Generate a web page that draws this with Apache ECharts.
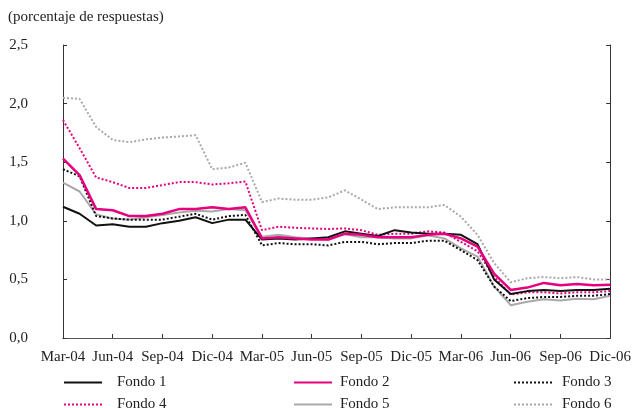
<!DOCTYPE html>
<html>
<head>
<meta charset="utf-8">
<script src="https://cdn.jsdelivr.net/npm/echarts@6/dist/echarts.min.js"></script>
<style>
  html, body { margin: 0; padding: 0; background: #fff; }
  #chart { width: 634px; height: 408px; }
</style>
</head>
<body>
<div id="chart"></div>
<script>
// meses (Mar-04 .. Dic-06)
const months = [
    'Mar-04', 'Abr-04', 'May-04', 'Jun-04', 'Jul-04', 'Ago-04', 'Sep-04', 'Oct-04', 'Nov-04', 'Dic-04',
    'Ene-05', 'Feb-05', 'Mar-05', 'Abr-05', 'May-05', 'Jun-05', 'Jul-05', 'Ago-05', 'Sep-05', 'Oct-05', 'Nov-05', 'Dic-05',
    'Ene-06', 'Feb-06', 'Mar-06', 'Abr-06', 'May-06', 'Jun-06', 'Jul-06', 'Ago-06', 'Sep-06', 'Oct-06', 'Nov-06', 'Dic-06'
];

const fondo1 = [1.12, 1.06, 0.96, 0.97, 0.95, 0.95, 0.98, 1.00, 1.03, 0.98, 1.01, 1.01, 0.84, 0.85, 0.84, 0.85, 0.86,
    0.91, 0.89, 0.87, 0.92, 0.90, 0.89, 0.89, 0.88, 0.80, 0.50, 0.375, 0.40, 0.41, 0.40, 0.41, 0.41, 0.42];
const fondo2 = [1.53, 1.39, 1.10, 1.09, 1.04, 1.04, 1.06, 1.10, 1.10, 1.115, 1.10, 1.115, 0.85, 0.86, 0.85, 0.84, 0.84,
    0.89, 0.88, 0.86, 0.86, 0.86, 0.88, 0.89, 0.85, 0.78, 0.55, 0.41, 0.43, 0.47, 0.45, 0.46, 0.45, 0.455];
const fondo3 = [1.44, 1.38, 1.04, 1.02, 1.01, 1.01, 1.01, 1.035, 1.06, 1.01, 1.04, 1.05, 0.79, 0.81, 0.80, 0.80, 0.79,
    0.82, 0.82, 0.80, 0.81, 0.81, 0.83, 0.83, 0.75, 0.665, 0.44, 0.315, 0.34, 0.35, 0.35, 0.36, 0.36, 0.375];
const fondo4 = [1.86, 1.62, 1.37, 1.33, 1.28, 1.28, 1.305, 1.33, 1.33, 1.31, 1.32, 1.335, 0.92, 0.95, 0.94, 0.935, 0.93,
    0.935, 0.92, 0.88, 0.89, 0.89, 0.91, 0.90, 0.82, 0.74, 0.52, 0.37, 0.39, 0.39, 0.38, 0.39, 0.39, 0.40];
const fondo5 = [1.325, 1.25, 1.055, 1.02, 1.01, 1.03, 1.05, 1.07, 1.085, 1.08, 1.10, 1.09, 0.865, 0.88, 0.86, 0.85, 0.84,
    0.885, 0.86, 0.86, 0.85, 0.85, 0.875, 0.85, 0.765, 0.695, 0.44, 0.28, 0.31, 0.33, 0.32, 0.335, 0.33, 0.36];
const fondo6 = [2.05, 2.04, 1.80, 1.69, 1.67, 1.695, 1.71, 1.72, 1.73, 1.44, 1.455, 1.495, 1.16, 1.19, 1.18, 1.18, 1.20,
    1.26, 1.18, 1.10, 1.115, 1.115, 1.115, 1.135, 1.035, 0.88, 0.64, 0.475, 0.51, 0.52, 0.51, 0.52, 0.50, 0.50];

const FONT = 'Liberation Serif';
const MAGENTA = '#e6007e';
const GRAY = '#a9a9a9';

function serie(name, data, color, width, dotted) {
    return {
        name: name,
        type: 'line',
        data: data,
        symbol: 'none',
        animation: false,
        lineStyle: {
            color: color,
            width: width,
            type: dotted ? [2, 2] : 'solid'
        },
        itemStyle: { color: color }
    };
}

// una leyenda por elemento, para colocarlas en rejilla 3x2
function legendItem(name, left, top, gap) {
    return {
        left: left,
        top: top,
        padding: 0,
        itemWidth: 38,
        itemHeight: 14,
        data: [name],
        itemStyle: { opacity: 0 },
        textStyle: {
            fontFamily: FONT,
            fontSize: 15,
            color: '#222',
            padding: [0, 0, 0, gap]
        }
    };
}

let chart = echarts.init(document.getElementById('chart'));

let option = {
    backgroundColor: '#fff',
    title: {
        text: '(porcentaje de respuestas)',
        left: 8,
        top: 10,
        padding: 0,
        textStyle: { fontFamily: FONT, fontSize: 15, fontWeight: 'normal', color: '#222' }
    },
    legend: [
        legendItem('Fondo 1', 63, 375, 10),
        legendItem('Fondo 4', 63, 397, 10),
        legendItem('Fondo 2', 293, 375, 3),
        legendItem('Fondo 5', 293, 397, 3),
        legendItem('Fondo 3', 513, 375, 5),
        legendItem('Fondo 6', 513, 397, 5)
    ],
    grid: { left: 63, right: 22, top: 45, bottom: 70 },
    xAxis: [
        {
            type: 'category',
            data: months,
            boundaryGap: false,
            axisLine: { lineStyle: { color: '#333', width: 1 } },
            axisTick: { inside: true, length: 4, interval: 2, lineStyle: { color: '#333' } },
            axisLabel: { interval: 2, margin: 12, fontFamily: FONT, fontSize: 15, color: '#222' },
            splitLine: { show: false }
        },
        {
            type: 'category',
            data: months,
            position: 'top',
            boundaryGap: false,
            axisLine: { lineStyle: { color: '#555', width: 1 } },
            axisTick: { show: false },
            axisLabel: { show: false },
            splitLine: { show: false }
        }
    ],
    yAxis: [
        {
            type: 'value',
            min: 0,
            max: 2.5,
            interval: 0.5,
            axisLine: { show: true, lineStyle: { color: '#333', width: 1 } },
            axisTick: { show: true, inside: true, length: 4, lineStyle: { color: '#333' } },
            axisLabel: {
                margin: 35,
                fontFamily: FONT,
                fontSize: 15,
                color: '#222',
                formatter: v => v.toFixed(1).replace('.', ',')
            },
            splitLine: { show: false }
        },
        {
            type: 'value',
            min: 0,
            max: 2.5,
            interval: 0.5,
            position: 'right',
            axisLine: { show: true, lineStyle: { color: '#333', width: 1 } },
            axisTick: { show: true, inside: true, length: 4, lineStyle: { color: '#333' } },
            axisLabel: { show: false },
            splitLine: { show: false }
        }
    ],
    series: [
        serie('Fondo 6', fondo6, GRAY, 2, true),
        serie('Fondo 5', fondo5, GRAY, 2, false),
        serie('Fondo 4', fondo4, MAGENTA, 2, true),
        serie('Fondo 3', fondo3, '#111', 2, true),
        serie('Fondo 1', fondo1, '#111', 2, false),
        serie('Fondo 2', fondo2, MAGENTA, 2.5, false)
    ]
};

chart.setOption(option);
</script>
</body>
</html>
